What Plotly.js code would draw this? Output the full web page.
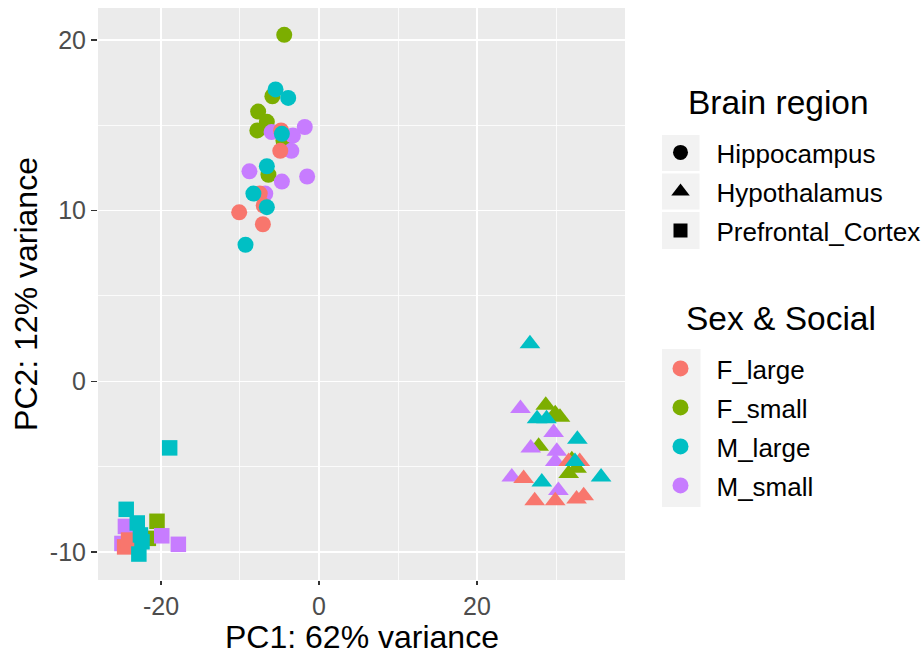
<!DOCTYPE html>
<html>
<head>
<meta charset="utf-8">
<script src="https://cdn.plot.ly/plotly-3.0.1.min.js"></script>
<style>html,body{margin:0;padding:0;background:#fff;}#chart{width:921px;height:649px;}</style>
</head>
<body>
<div id="chart"></div>
<script>
// ---- data (PC1, PC2 per brain region and group) ----
var groups = ["F_large", "F_small", "M_large", "M_small"];
var groupColors = ["#F8766D", "#7CAE00", "#00BFC4", "#C77CFF"];
var regions = ["Hippocampus", "Hypothalamus", "Prefrontal_Cortex"];
var regionSymbols = ["circle", "triangle-up", "square"];

// Hippocampus
var hipFLargeX = [-4.8, -4.9, -7.5, -7.0, -10.1, -7.1];
var hipFLargeY = [14.7, 13.5, 11.0, 10.3, 9.9, 9.2];
var hipFSmallX = [-4.4, -5.9, -7.7, -6.6, -7.8, -4.5, -6.4];
var hipFSmallY = [20.3, 16.7, 15.8, 15.2, 14.7, 14.1, 12.1];
var hipMLargeX = [-5.5, -3.9, -4.7, -6.6, -8.3, -6.6, -9.3];
var hipMLargeY = [17.1, 16.6, 14.5, 12.6, 11.0, 10.2, 8.0];
var hipMSmallX = [-6.0, -1.8, -3.3, -3.5, -8.8, -4.7, -1.5, -6.8];
var hipMSmallY = [14.6, 14.9, 14.4, 13.5, 12.3, 11.7, 12.0, 11.0];

// Hypothalamus
var hypFLargeX = [31.6, 33.0, 25.9, 27.3, 29.9, 32.6, 33.5];
var hypFLargeY = [-4.7, -4.7, -5.7, -7.0, -7.0, -6.9, -6.7];
var hypFSmallX = [28.7, 29.9, 30.5, 27.8, 32.0, 32.6, 31.6];
var hypFSmallY = [-1.4, -1.9, -2.1, -3.8, -4.6, -5.1, -5.4];
var hypMLargeX = [26.7, 27.6, 28.8, 32.7, 32.4, 35.7, 28.2];
var hypMLargeY = [2.2, -2.2, -2.2, -3.4, -4.7, -5.6, -5.9];
var hypMSmallX = [25.5, 29.7, 26.8, 30.1, 29.9, 24.4, 30.3];
var hypMSmallY = [-1.6, -3.0, -3.9, -4.1, -4.7, -5.6, -6.4];

// Prefrontal cortex
var pfcFLargeX = [-24.6, -24.1];
var pfcFLargeY = [-9.7, -9.3];
var pfcFSmallX = [-20.5, -21.6];
var pfcFSmallY = [-8.2, -9.2];
var pfcMLargeX = [-18.9, -24.4, -23.0, -22.6, -22.4, -22.8];
var pfcMLargeY = [-3.9, -7.5, -8.3, -9.0, -9.4, -10.12];
var pfcMSmallX = [-24.5, -24.94, -19.9, -17.8];
var pfcMSmallY = [-8.5, -9.5, -9.05, -9.55];

var xTickVals = [-20, 0, 20];
var yTickVals = [-10, 0, 10, 20];
var xTitle = "PC1: 62% variance";
var yTitle = "PC2: 12% variance";

var FONT = "Liberation Sans, Arial, sans-serif";

// ---- build traces ----
var dataByRegion = [
  [[hipFLargeX, hipFLargeY], [hipFSmallX, hipFSmallY], [hipMLargeX, hipMLargeY], [hipMSmallX, hipMSmallY]],
  [[hypFLargeX, hypFLargeY], [hypFSmallX, hypFSmallY], [hypMLargeX, hypMLargeY], [hypMSmallX, hypMSmallY]],
  [[pfcFLargeX, pfcFLargeY], [pfcFSmallX, pfcFSmallY], [pfcMLargeX, pfcMLargeY], [pfcMSmallX, pfcMSmallY]]
];
var markerSizes = [16, 18, 15.5];
var drawOrder = [1, 3, 0, 2]; // F_small, M_small, F_large, M_large

var traces = [];
for (var r = 0; r < regions.length; r++) {
  for (var k = 0; k < drawOrder.length; k++) {
    var g = drawOrder[k];
    traces.push({
      type: "scatter", mode: "markers",
      x: dataByRegion[r][g][0], y: dataByRegion[r][g][1],
      name: regions[r] + " " + groups[g],
      showlegend: false,
      marker: {symbol: regionSymbols[r], color: groupColors[g], size: markerSizes[r], line: {width: 0}},
      hoverinfo: "x+y+name"
    });
  }
}
// legend: brain region (shapes)
for (var r2 = 0; r2 < regions.length; r2++) {
  traces.push({
    type: "scatter", mode: "markers", x: [null], y: [null],
    name: regions[r2], legend: "legend", legendgroup: "reg" + r2,
    marker: {symbol: regionSymbols[r2], color: "black", size: [15, 16, 14][r2]}
  });
}
// legend: sex & social (colours)
for (var g2 = 0; g2 < groups.length; g2++) {
  traces.push({
    type: "scatter", mode: "markers", x: [null], y: [null],
    name: groups[g2], legend: "legend2", legendgroup: "grp" + g2,
    marker: {symbol: "circle", color: groupColors[g2], size: 16}
  });
}

// ---- layout ----
var L = 98, R = 625, T = 8, B = 580;
function px2x(p) { return (p - L) / (R - L); }
function px2y(p) { return (B - p) / (B - T); }

var keyShapes = [];
[[135, 171], [173.5, 209.5], [212, 249]].forEach(function (b) {
  keyShapes.push({type: "rect", xref: "paper", yref: "paper", x0: px2x(662), x1: px2x(699.5),
    y0: px2y(b[1]), y1: px2y(b[0]), fillcolor: "#F2F2F2", line: {width: 0}, layer: "below"});
});
keyShapes.push({type: "rect", xref: "paper", yref: "paper", x0: px2x(662), x1: px2x(700.5),
  y0: px2y(507), y1: px2y(349), fillcolor: "#F2F2F2", line: {width: 0}, layer: "below"});

var legendCommon = {
  xanchor: "left", yanchor: "middle",
  bgcolor: "rgba(0,0,0,0)", borderwidth: 0,
  font: {size: 26, color: "#000000", family: FONT},
  itemwidth: 62, tracegroupgap: 2.2, traceorder: "grouped", itemclick: false, itemdoubleclick: false
};
var legend1 = Object.assign({}, legendCommon, {x: px2x(644.5), y: px2y(191.5)});
var legend2 = Object.assign({}, legendCommon, {x: px2x(644.5), y: px2y(427)});

var layout = {
  width: 921, height: 649,
  margin: {l: L, r: 921 - R, t: T, b: 649 - B, autoexpand: false},
  paper_bgcolor: "#FFFFFF",
  plot_bgcolor: "#EBEBEB",
  font: {family: FONT},
  showlegend: true,
  xaxis: {
    range: [-27.97, 38.73], tickvals: xTickVals, ticktext: xTickVals.map(String),
    showgrid: true, gridcolor: "#FFFFFF", gridwidth: 1.6, zeroline: false, showline: false,
    ticks: "outside", ticklen: 4, tickwidth: 1.5, tickcolor: "#333333",
    tickfont: {size: 25, color: "#4D4D4D", family: FONT},
    minor: {dtick: 10, tick0: 0, showgrid: true, gridcolor: "#FFFFFF", gridwidth: 0.8},
    automargin: false, fixedrange: true
  },
  yaxis: {
    range: [-11.64, 21.87], tickvals: yTickVals, ticktext: yTickVals.map(String),
    showgrid: true, gridcolor: "#FFFFFF", gridwidth: 1.6, zeroline: false, showline: false,
    ticks: "outside", ticklen: 6, tickwidth: 1.5, tickcolor: "#333333",
    tickfont: {size: 25, color: "#4D4D4D", family: FONT},
    minor: {dtick: 5, tick0: 0, showgrid: true, gridcolor: "#FFFFFF", gridwidth: 0.8},
    title: {text: yTitle, font: {size: 32, color: "#000000", family: FONT}, standoff: 2},
    automargin: true, fixedrange: true
  },
  legend: legend1,
  legend2: legend2,
  shapes: keyShapes,
  annotations: [
    {text: xTitle, xref: "paper", yref: "paper", x: 0.5, y: px2y(637),
      xanchor: "center", yanchor: "middle", showarrow: false, font: {size: 32, color: "#000000", family: FONT}},
    {text: "Brain region", xref: "paper", yref: "paper", x: px2x(686), y: px2y(103),
      xanchor: "left", yanchor: "middle", showarrow: false, font: {size: 33.5, color: "#000000", family: FONT}},
    {text: "Sex &amp; Social", xref: "paper", yref: "paper", x: px2x(684), y: px2y(318),
      xanchor: "left", yanchor: "middle", showarrow: false, font: {size: 33.5, color: "#000000", family: FONT}}
  ]
};

Plotly.newPlot("chart", traces, layout, {displayModeBar: false, staticPlot: true});
</script>
</body>
</html>
